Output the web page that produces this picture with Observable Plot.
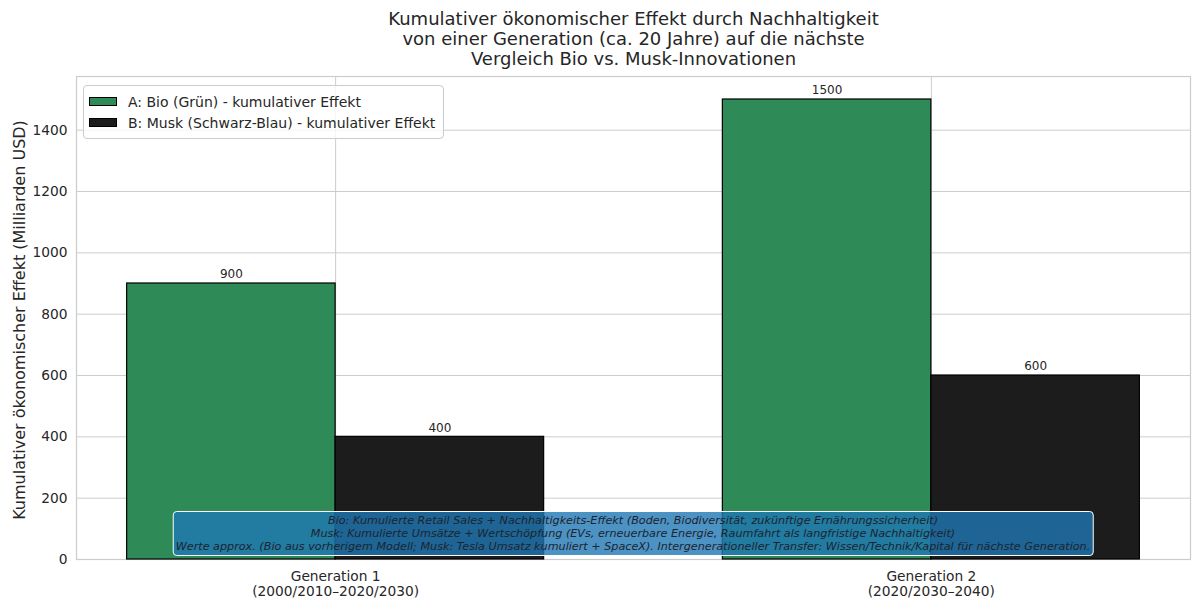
<!DOCTYPE html>
<html>
<head>
<meta charset="utf-8">
<script src="https://cdn.jsdelivr.net/npm/d3@7"></script>
<script src="https://cdn.jsdelivr.net/npm/@observablehq/plot@0.6"></script>
<style>
  html, body { margin: 0; padding: 0; background: #fff; }
  #wrap { position: relative; width: 1200px; height: 609px; font-family: "DejaVu Sans", sans-serif; }
  #legend { position: absolute; background: rgba(255,255,255,0.8); border: 1px solid #cccccc; border-radius: 4px; padding: 5px 8px 5px 5px; color: #262626; font-size: 14px; }
  #legend .row { display: flex; align-items: center; height: 21px; }
  #legend .sw { width: 28px; height: 9px; border: 1px solid #000; margin-right: 11px; box-sizing: border-box; }
  #note { position: absolute; transform: translateX(-50%); background: rgba(31,119,180,0.8); border: 1px solid #ffffff; border-radius: 4px; padding: 2px 2px; font-size: 11.2px; line-height: 13px; font-style: italic; text-align: center; color: #1c2430; white-space: nowrap; }
</style>
</head>
<body>
<div id="wrap"></div>
<script>
const titleLines = "Kumulativer ökonomischer Effekt durch Nachhaltigkeit\nvon einer Generation (ca. 20 Jahre) auf die nächste\nVergleich Bio vs. Musk-Innovationen";
const yLabel = "Kumulativer ökonomischer Effekt (Milliarden USD)";
const groups = ["Generation 1\n(2000/2010–2020/2030)", "Generation 2\n(2020/2030–2040)"];
const seriesNames = ["A: Bio (Grün) - kumulativer Effekt", "B: Musk (Schwarz-Blau) - kumulativer Effekt"];
const bioValues = [900, 1500];
const muskValues = [400, 600];
const seriesColors = ["#2e8b57", "#1c1c1c"];
const yTicks = [0, 200, 400, 600, 800, 1000, 1200, 1400];
const noteLines = [
  "Bio: Kumulierte Retail Sales + Nachhaltigkeits-Effekt (Boden, Biodiversität, zukünftige Ernährungssicherheit)",
  "Musk: Kumulierte Umsätze + Wertschöpfung (EVs, erneuerbare Energie, Raumfahrt als langfristige Nachhaltigkeit)",
  "Werte approx. (Bio aus vorherigem Modell; Musk: Tesla Umsatz kumuliert + SpaceX). Intergenerationeller Transfer: Wissen/Technik/Kapital für nächste Generation."
];

const barW = 0.35;
const rows = [];
groups.forEach((g, i) => {
  rows.push({gi: i, s: 0, value: bioValues[i]});
  rows.push({gi: i, s: 1, value: muskValues[i]});
});
const xPad = (groups.length - 1 + 2 * barW) * 0.05;
const yMax = Math.max(...bioValues, ...muskValues) * 1.05;
const bx1 = d => d.gi + (d.s === 0 ? -barW : 0);
const bx2 = d => bx1(d) + barW;

const plot = Plot.plot({
  width: 1200,
  height: 609,
  marginLeft: 76,
  marginRight: 10,
  marginTop: 76,
  marginBottom: 50,
  style: {fontFamily: "DejaVu Sans, sans-serif", color: "#262626", background: "#fff"},
  x: {domain: [-barW - xPad, groups.length - 1 + barW + xPad]},
  y: {domain: [0, yMax]},
  color: {domain: [0, 1], range: seriesColors},
  marks: [
    Plot.gridY(yTicks, {stroke: "#cccccc", strokeOpacity: 1, strokeWidth: 1}),
    Plot.gridX(groups.map((g, i) => i), {stroke: "#cccccc", strokeOpacity: 1, strokeWidth: 1}),
    Plot.frame({stroke: "#cccccc", strokeWidth: 1.2}),
    Plot.rectY(rows, {x1: bx1, x2: bx2, y1: 0, y2: "value", fill: d => d.s, stroke: "#000", strokeWidth: 1.2}),
    Plot.text(rows, {x: d => (bx1(d) + bx2(d)) / 2, y: "value", text: d => String(d.value), dy: -9, fontSize: 12, fill: "#262626"}),
    Plot.axisY(yTicks, {tickSize: 0, tickPadding: 9, fontSize: 13.75, label: null, tickFormat: d => String(d)}),
    Plot.axisX(groups.map((g, i) => i), {tickSize: 0, tickPadding: 11, fontSize: 13.75, lineHeight: 1.1, tickFormat: i => groups[i], label: null}),
    Plot.text([yLabel], {frameAnchor: "left", textAnchor: "middle", lineAnchor: "middle", dx: -57, dy: 2, rotate: -90, fontSize: 16, fill: "#262626"}),
    Plot.text([titleLines], {frameAnchor: "top", lineAnchor: "middle", dy: -38, fontSize: 18, lineHeight: 1.13, fill: "#262626"})
  ]
});

const wrap = document.getElementById("wrap");
wrap.appendChild(plot);

const xs = plot.scale("x"), ys = plot.scale("y");
const frameLeft = xs.range[0], frameRight = xs.range[1], frameTop = ys.range[1], frameBottom = ys.range[0];

const legend = document.createElement("div");
legend.id = "legend";
legend.style.left = (frameLeft + 7) + "px";
legend.style.top = (frameTop + 9) + "px";
seriesNames.forEach((name, i) => {
  const row = document.createElement("div");
  row.className = "row";
  const sw = document.createElement("span");
  sw.className = "sw";
  sw.style.background = seriesColors[i];
  const t = document.createElement("span");
  t.textContent = name;
  row.appendChild(sw); row.appendChild(t);
  legend.appendChild(row);
});
wrap.appendChild(legend);

const note = document.createElement("div");
note.id = "note";
note.innerHTML = noteLines.map(l => l.replace(/&/g, "&amp;").replace(/</g, "&lt;")).join("<br>");
note.style.left = ((frameLeft + frameRight) / 2) + "px";
note.style.bottom = (609 - frameBottom + 3) + "px";
wrap.appendChild(note);
</script>
</body>
</html>
